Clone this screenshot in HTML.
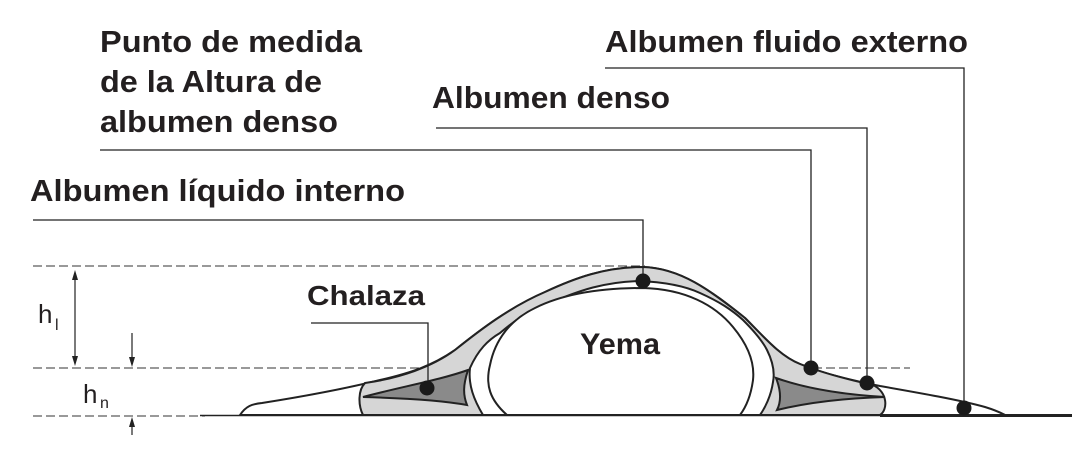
<!DOCTYPE html>
<html><head><meta charset="utf-8"><style>
html,body{margin:0;padding:0;background:#fff;}
svg{display:block;}
text{font-family:"Liberation Sans",sans-serif;fill:#231f20;}
.b{font-weight:bold;}
</style></head><body>
<svg width="1089" height="454" viewBox="0 0 1089 454" xmlns="http://www.w3.org/2000/svg">
<!-- labels -->
<text class="b" x="100" y="52" font-size="31" textLength="262" lengthAdjust="spacingAndGlyphs">Punto de medida</text>
<text class="b" x="100" y="92" font-size="31" textLength="222" lengthAdjust="spacingAndGlyphs">de la Altura de</text>
<text class="b" x="100" y="132" font-size="31" textLength="238" lengthAdjust="spacingAndGlyphs">albumen denso</text>
<text class="b" x="30" y="201" font-size="31" textLength="375" lengthAdjust="spacingAndGlyphs">Albumen líquido interno</text>
<text class="b" x="432" y="108" font-size="31" textLength="238" lengthAdjust="spacingAndGlyphs">Albumen denso</text>
<text class="b" x="605" y="52" font-size="31" textLength="363" lengthAdjust="spacingAndGlyphs">Albumen fluido externo</text>
<text class="b" x="307" y="305" font-size="28" textLength="118" lengthAdjust="spacingAndGlyphs">Chalaza</text>
<text x="38" y="323" font-size="26" fill="#333">h</text><text x="55" y="330" font-size="16" fill="#333">l</text>
<text x="83" y="403" font-size="26" fill="#333">h</text><text x="100" y="408" font-size="16" fill="#333">n</text>

<!-- dashed guides -->
<g stroke="#333" stroke-width="1" stroke-dasharray="9,4" fill="none">
<line x1="33" y1="266" x2="645" y2="266"/>
<line x1="33" y1="368" x2="910" y2="368"/>
<line x1="33" y1="416" x2="205" y2="416"/>
</g>
<!-- arrows -->
<g stroke="#222" stroke-width="1.2" fill="#222">
<line x1="75" y1="274" x2="75" y2="360"/>
<polygon points="75,270 72,280 78,280" stroke="none"/>
<polygon points="75,366 72,356 78,356" stroke="none"/>
<line x1="132" y1="333" x2="132" y2="362"/>
<polygon points="132,367 129,357 135,357" stroke="none"/>
<line x1="132" y1="422" x2="132" y2="435"/>
<polygon points="132,417 129,427 135,427" stroke="none"/>
</g>

<!-- outer fluid albumen -->
<path d="M240,415 C246,406 252,404 262,403 C300,397 340,390 380,380 C410,373 432,366 455,350 C480,330 510,307 545,292 C575,278 605,267 643,267 C680,268 710,290 745,318 C765,338 780,356 800,364 C825,374 850,380 880,386 C920,393 960,400 985,407 C998,411 1003,414 1005,415 Z" fill="#fff" stroke="#222" stroke-width="2"/>
<!-- gray dense band -->
<path d="M363,415 C358,405 358,390 365,383 C400,378 432,367 455,350 C480,330 510,307 545,292 C575,278 605,267 643,267 C680,268 710,290 745,318 C765,338 780,356 800,364 C825,374 850,380 873,385 C888,392 888,410 880,415 Z" fill="#d6d6d6" stroke="#222" stroke-width="2"/>
<!-- inner liquid (white) -->
<path d="M483,415 C474,400 468,385 470,368 C478,350 488,340 500,333 C515,320 530,310 550,303 C580,290 605,282 638,281 C665,282 685,286 700,293 C720,302 732,310 743,320 C755,332 763,342 767,350 C773,362 775,372 773,382 C771,396 765,408 760,415 Z" fill="#fff" stroke="#222" stroke-width="2"/>
<!-- dark chalazae -->
<path d="M363,397 C400,387 440,380 468,370 C463,385 463,395 467,405 C440,400 400,398 363,397 Z" fill="#8a8a8a" stroke="#222" stroke-width="2"/>
<path d="M776,378 C810,390 850,395 885,397 C850,398 810,402 777,410 C782,400 780,388 776,378 Z" fill="#8a8a8a" stroke="#222" stroke-width="2"/>
<!-- yolk -->
<path d="M507,415 C490,400 485,385 490,365 C495,340 510,320 535,308 C565,293 605,288 643,288 C685,289 715,305 733,327 C748,345 755,362 753,380 C751,395 746,407 740,415 Z" fill="#fff" stroke="#222" stroke-width="2"/>
<line x1="200" y1="415.5" x2="880" y2="415.5" stroke="#222" stroke-width="1.5"/>
<line x1="880" y1="415.5" x2="1072" y2="415.5" stroke="#222" stroke-width="3"/>

<text class="b" x="580" y="354" font-size="30" textLength="80" lengthAdjust="spacingAndGlyphs">Yema</text>

<!-- leader lines -->
<g stroke="#222" stroke-width="1.3" fill="none">
<polyline points="33,220 643,220 643,281"/>
<polyline points="100,150 811,150 811,368"/>
<polyline points="436,128 867,128 867,383"/>
<polyline points="605,68 964,68 964,408"/>
<polyline points="311,323 428,323 428,388"/>
</g>
<!-- dots -->
<g fill="#1a1a1a">
<circle cx="643" cy="281" r="7.5"/>
<circle cx="427" cy="388" r="7.5"/>
<circle cx="811" cy="368" r="7.5"/>
<circle cx="867" cy="383" r="7.5"/>
<circle cx="964" cy="408" r="7.5"/>
</g>
</svg>
</body></html>
